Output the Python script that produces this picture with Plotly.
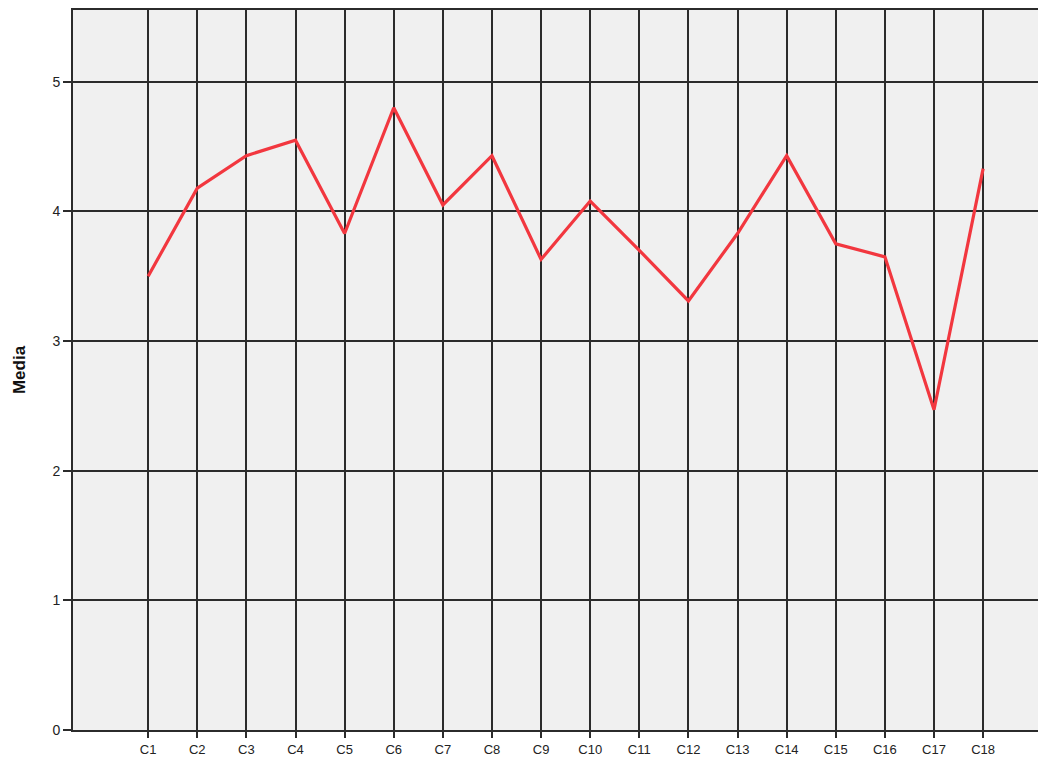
import plotly.graph_objects as go

categories = ["C1", "C2", "C3", "C4", "C5", "C6", "C7", "C8", "C9", "C10",
              "C11", "C12", "C13", "C14", "C15", "C16", "C17", "C18"]
media = [3.50, 4.18, 4.43, 4.55, 3.83, 4.80, 4.05, 4.43, 3.63, 4.08,
         3.70, 3.31, 3.83, 4.43, 3.75, 3.65, 2.47, 4.33]
y_ticks = [0, 1, 2, 3, 4, 5]

fig = go.Figure()
fig.add_trace(go.Scatter(
    x=list(range(len(categories))), y=media, mode="lines",
    line=dict(color="#f2373f", width=3.2), showlegend=False,
))

fig.update_layout(
    width=1038, height=752,
    margin=dict(l=65, r=0, t=0, b=30),
    paper_bgcolor="white", plot_bgcolor="#f0f0f0",
    font=dict(family="Liberation Sans, Arial, sans-serif", color="#222222", size=13),
)
fig.update_xaxes(
    range=[-1.53, 18.28],
    tickmode="array", tickvals=list(range(len(categories))), ticktext=categories,
    showgrid=True, gridcolor="#2b2b2b", gridwidth=1.6,
    showline=True, linecolor="#2b2b2b", linewidth=2, mirror=True,
    ticks="outside", ticklen=6, tickcolor="#2b2b2b", tickwidth=1.6,
    zeroline=False, tickfont=dict(size=13),
)
fig.update_yaxes(
    range=[0, 5.554],
    tickmode="array", tickvals=y_ticks, ticktext=[str(v) for v in y_ticks],
    showgrid=True, gridcolor="#2b2b2b", gridwidth=1.6,
    showline=True, linecolor="#2b2b2b", linewidth=2,
    ticks="outside", ticklen=8, tickcolor="#2b2b2b", tickwidth=1.6,
    zeroline=False, tickfont=dict(size=14),
    title=dict(text="<b>Media</b>", font=dict(size=17, color="#111111"), standoff=22),
)

fig.write_html("out.html")
